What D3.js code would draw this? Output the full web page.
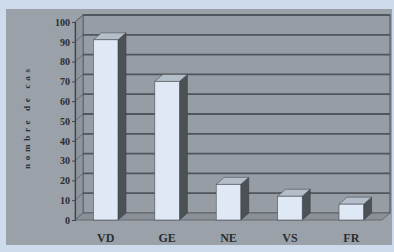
<!DOCTYPE html>
<html lang="fr">
<head>
<meta charset="UTF-8">
<title>nombre de cas</title>
<style>
  html, body { margin: 0; background: #cddbed; }
  text { font-family: 'Liberation Serif', 'DejaVu Serif', serif; fill: #2a2d31; }
</style>
</head>
<body>
<svg id="chart" width="394" height="252" viewBox="0 0 394 252"></svg>
<script src="https://d3js.org/d3.v7.min.js"></script>
<script>
const categories = ["VD", "GE", "NE", "VS", "FR"];
const values = [91, 70, 18, 12, 8];
const yTicks = [0, 10, 20, 30, 40, 50, 60, 70, 80, 90, 100];
const yTitle = "nombre de cas";

const svg = d3.select("#chart");
const margin = {left: 75, right: 12, top: 22, bottom: 32};
const W = 394, H = 252;
const dx = 8, dy = -7; // 3d depth offset

const x = d3.scaleBand().domain(categories)
    .range([margin.left, W - margin.right])
    .paddingInner(0.6).paddingOuter(0.3);
const y = d3.scaleLinear().domain([0, 100]).range([H - margin.bottom, margin.top]);

// outer gray panel
svg.append("rect").attr("x", 6).attr("y", 9).attr("width", 386).attr("height", 236)
    .attr("fill", "#9ba1a8");

// back wall
const x0 = margin.left, x1 = W - margin.right;
svg.append("rect")
    .attr("x", x0 + dx).attr("y", y(100) + dy)
    .attr("width", x1 - x0).attr("height", y(0) - y(100))
    .attr("fill", "#979da4").attr("stroke", "#555b62").attr("stroke-width", 1.2);

// left side wall
svg.append("path")
    .attr("d", `M${x0},${y(0)}L${x0},${y(100)}L${x0 + dx},${y(100) + dy}L${x0 + dx},${y(0) + dy}Z`)
    .attr("fill", "#8f959c").attr("stroke", "#5b6168").attr("stroke-width", 0.8);

// floor
svg.append("path")
    .attr("d", `M${x0},${y(0)}L${x1},${y(0)}L${x1 + dx},${y(0) + dy}L${x0 + dx},${y(0) + dy}Z`)
    .attr("fill", "#8b9097").attr("stroke", "#5b6168").attr("stroke-width", 0.8);

// gridlines on back wall + side wall
const grid = svg.append("g");
grid.selectAll("line.g").data(yTicks.slice(1)).join("line")
    .attr("x1", x0 + dx).attr("x2", x1 + dx)
    .attr("y1", d => y(d) + dy).attr("y2", d => y(d) + dy)
    .attr("stroke", "#50565d").attr("stroke-width", 1.8);
grid.selectAll("line.s").data(yTicks.slice(1)).join("line")
    .attr("x1", x0).attr("x2", x0 + dx)
    .attr("y1", d => y(d)).attr("y2", d => y(d) + dy)
    .attr("stroke", "#5b6168").attr("stroke-width", 0.8);

// y axis
const yAxis = d3.axisLeft(y).tickValues(yTicks).tickSize(3).tickPadding(2);
const ag = svg.append("g").attr("transform", `translate(${x0},0)`).call(yAxis);
ag.select(".domain").attr("stroke", "#3f444a").attr("stroke-width", 1.2);
ag.selectAll(".tick line").attr("stroke", "#3f444a");
ag.selectAll(".tick text").attr("font-size", 10).attr("font-weight", "bold")
    .attr("fill", "#2a2d31").attr("font-family", "'Liberation Serif', serif");

// bars
const bw = x.bandwidth();
const bars = svg.append("g").selectAll("g").data(categories).join("g");
bars.append("path") // side
    .attr("d", (c, i) => {
        const bx = x(c) + bw, top = y(values[i]);
        return `M${bx},${y(0)}L${bx},${top}L${bx + dx},${top + dy}L${bx + dx},${y(0) + dy}Z`;
    })
    .attr("fill", "#4b5155").attr("stroke", "#3a3f43").attr("stroke-width", 0.6);
bars.append("path") // top
    .attr("d", (c, i) => {
        const bx = x(c), top = y(values[i]);
        return `M${bx},${top}L${bx + bw},${top}L${bx + bw + dx},${top + dy}L${bx + dx},${top + dy}Z`;
    })
    .attr("fill", "#b4bec8").attr("stroke", "#4a4f54").attr("stroke-width", 0.6);
bars.append("rect") // front
    .attr("x", c => x(c))
    .attr("y", (c, i) => y(values[i]))
    .attr("width", bw)
    .attr("height", (c, i) => y(0) - y(values[i]))
    .attr("fill", "#dfe9f6").attr("stroke", "#4a4f54").attr("stroke-width", 0.6);

// category labels
svg.append("g").selectAll("text").data(categories).join("text")
    .attr("x", c => x(c) + bw / 2)
    .attr("y", 242)
    .attr("text-anchor", "middle")
    .attr("font-size", 12)
    .attr("font-weight", "bold")
    .text(c => c);

// y title
svg.append("text")
    .attr("transform", `translate(30,${y(51)}) rotate(-90)`)
    .attr("text-anchor", "middle")
    .attr("font-size", 9)
    .attr("font-weight", "bold")
    .attr("textLength", 100)
    .attr("lengthAdjust", "spacing")
    .text(yTitle);
</script>
</body>
</html>
